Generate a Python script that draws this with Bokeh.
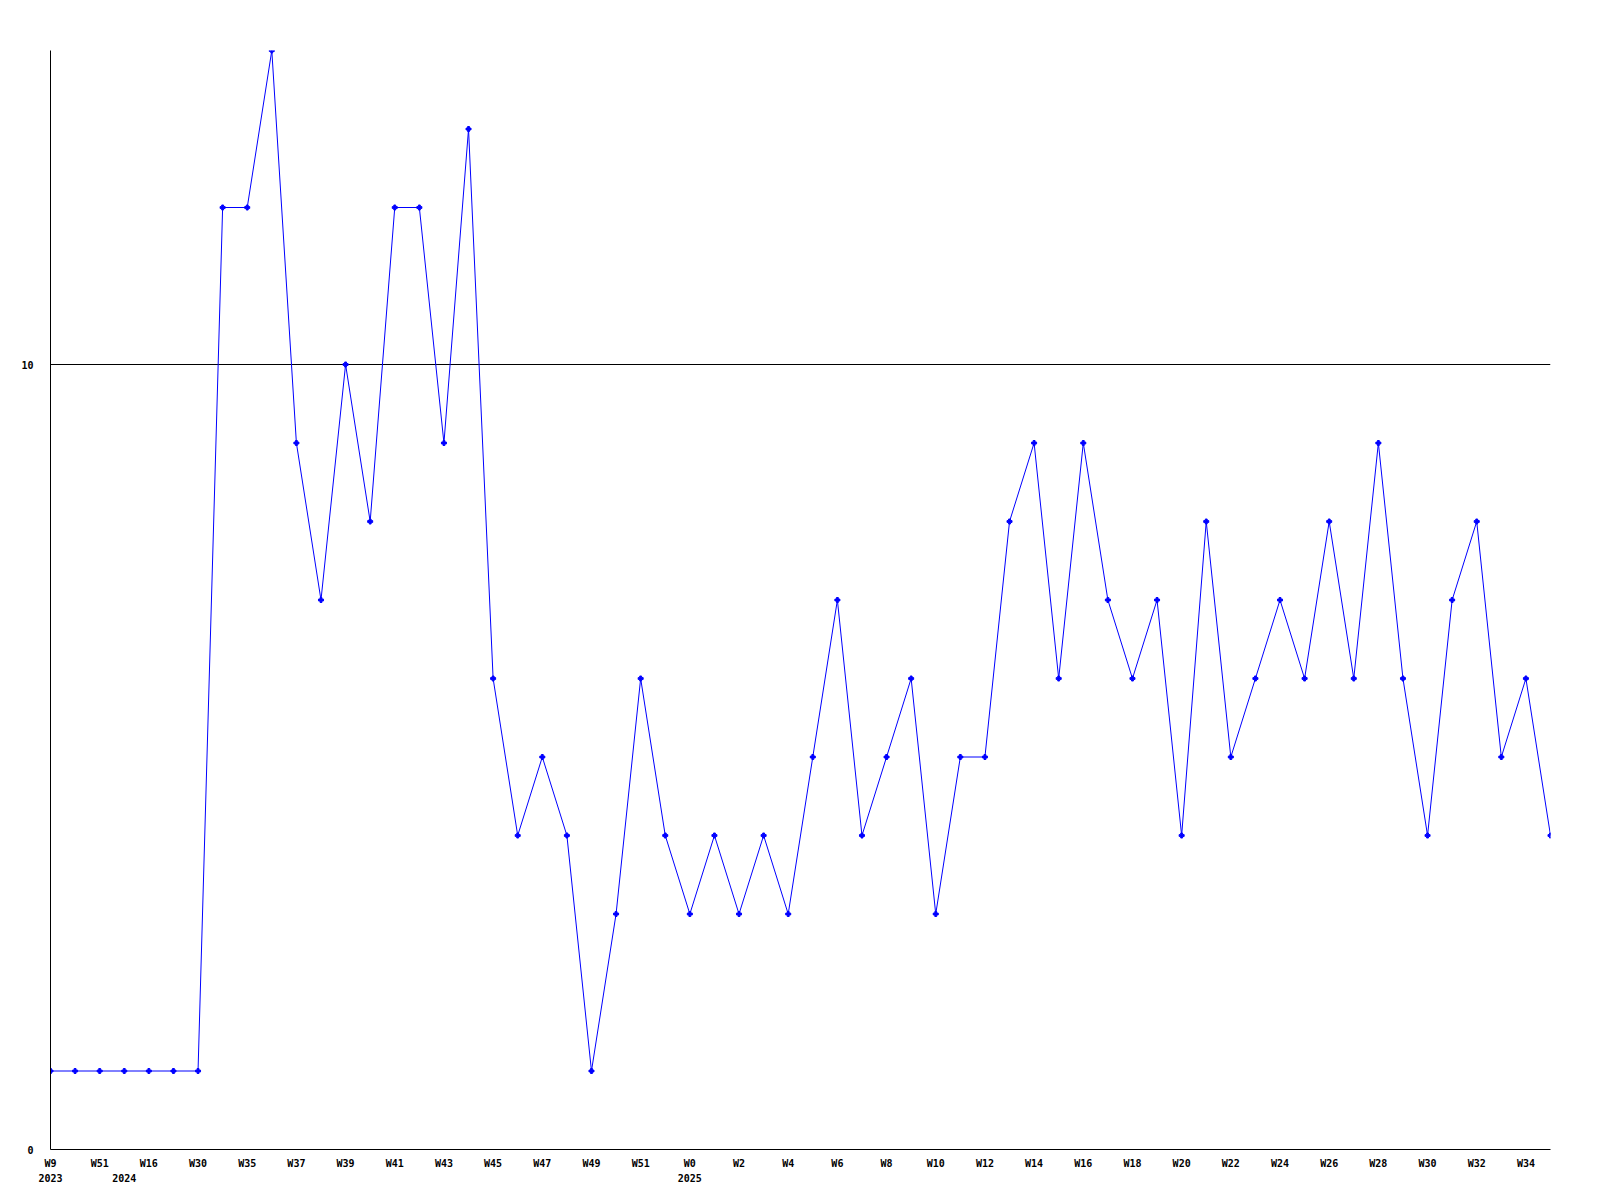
from bokeh.plotting import figure
from bokeh.models import FixedTicker, Range1d, LinearAxis, Grid
from bokeh.embed import file_html
from bokeh.resources import INLINE

weeks = ["W9", "W50", "W51", "W1", "W16", "W20", "W30", "W34",
         "W35", "W36", "W37", "W38", "W39", "W40", "W41", "W42", "W43", "W44",
         "W45", "W46", "W47", "W48", "W49", "W50", "W51", "W52",
         "W0", "W1", "W2", "W3", "W4", "W5", "W6", "W7", "W8", "W9", "W10",
         "W11", "W12", "W13", "W14", "W15", "W16", "W17", "W18", "W19", "W20",
         "W21", "W22", "W23", "W24", "W25", "W26", "W27", "W28", "W29", "W30",
         "W31", "W32", "W33", "W34", "W35"]
years = {0: "2023", 3: "2024", 26: "2025"}
values = [1, 1, 1, 1, 1, 1, 1, 12, 12, 14, 9, 7, 10, 8, 12, 12, 9, 13,
          6, 4, 5, 4, 1, 3, 6, 4, 3, 4, 3, 4, 3, 5, 7, 4, 5, 6, 3, 5, 5,
          8, 9, 6, 9, 7, 6, 7, 4, 8, 5, 6, 7, 6, 8, 6, 9, 6, 4, 7, 8, 5, 6, 4]
y_ticks = [0, 10]

xs = list(range(len(values)))
FONT = "DejaVu Sans Mono"

p = figure(width=1584, height=1184, output_backend="svg", toolbar_location=None,
           x_range=Range1d(0, len(values) - 1), y_range=Range1d(0, 14),
           min_border_left=50, min_border_right=34, min_border_top=50,
           min_border_bottom=34, x_axis_location=None, y_axis_location=None)
p.outline_line_color = None
p.background_fill_color = "white"
p.border_fill_color = "white"

p.line(xs, values, line_color="#0000FF", line_width=1)
p.scatter(xs, values, marker="plus", size=5, color="#0000FF")


def style(ax, standoff):
    ax.major_tick_line_color = None
    ax.minor_tick_line_color = None
    ax.major_tick_out = 0
    ax.major_tick_in = 0
    ax.minor_tick_out = 0
    ax.minor_tick_in = 0
    ax.major_label_standoff = standoff
    ax.major_label_text_font = FONT
    ax.major_label_text_font_style = "bold"
    ax.major_label_text_font_size = "10px"
    ax.major_label_text_color = "black"


# y axis
yax = LinearAxis(ticker=FixedTicker(ticks=y_ticks))
yax.axis_line_color = "black"
style(yax, 17)
p.add_layout(yax, "left")

# week axis
even = [i for i in xs if i % 2 == 0]
xax = LinearAxis(ticker=FixedTicker(ticks=even))
xax.major_label_overrides = {i: weeks[i] for i in even}
xax.axis_line_color = "black"
style(xax, 8)
p.add_layout(xax, "below")

# year axis
yrax = LinearAxis(ticker=FixedTicker(ticks=list(years.keys())))
yrax.major_label_overrides = years
yrax.axis_line_color = None
style(yrax, 2)
p.add_layout(yrax, "below")

p.xgrid.visible = False
p.ygrid.visible = False
g = Grid(dimension=1, ticker=FixedTicker(ticks=y_ticks), grid_line_color="black",
         grid_line_width=1)
p.add_layout(g, "center")

open("out.html", "w").write(file_html(p, INLINE))
